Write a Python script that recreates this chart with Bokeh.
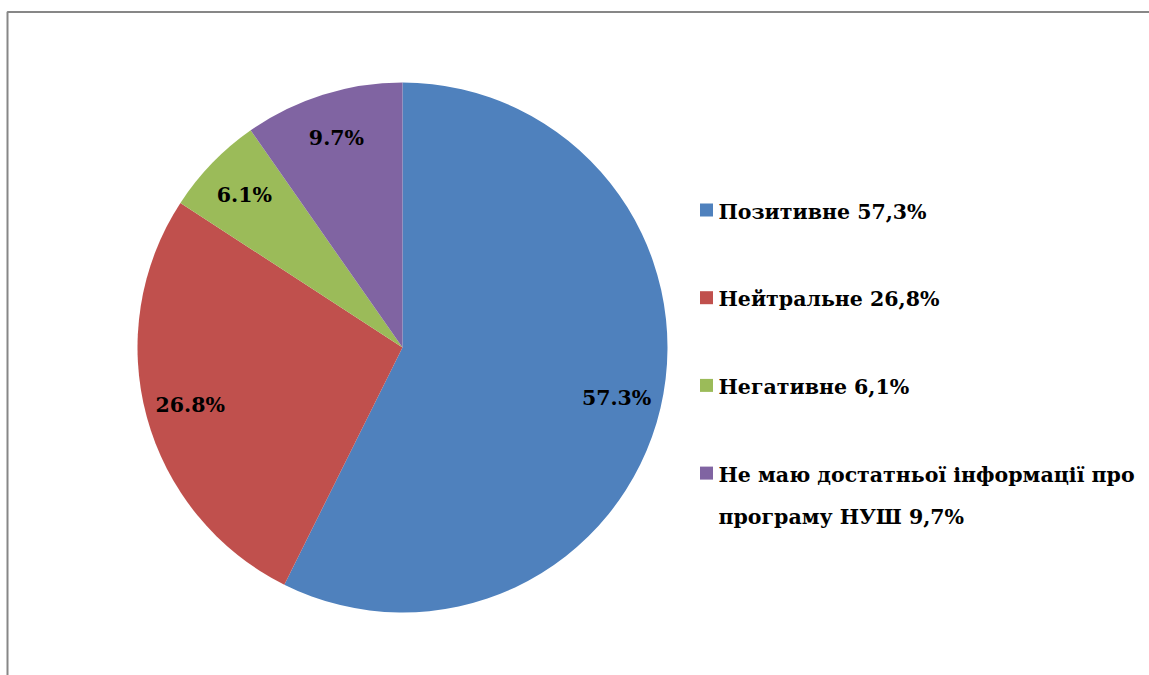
import math
from bokeh.plotting import figure
from bokeh.models import Range1d, ColumnDataSource
from bokeh.core.properties import value
from bokeh.embed import file_html
from bokeh.resources import INLINE

# ---- data ----
categories = ["Позитивне", "Нейтральне", "Негативне", "Не маю достатньої інформації про програму НУШ"]
shares = [57.3, 26.8, 6.1, 9.7]
slice_labels = ["57.3%", "26.8%", "6.1%", "9.7%"]
legend_labels = ["Позитивне 57,3%", "Нейтральне 26,8%", "Негативне 6,1%",
                 "Не маю достатньої інформації про\nпрограму НУШ  9,7%"]
colors = ["#4F81BD", "#C0504D", "#9BBB59", "#8064A2"]

TEXT_STYLE = dict(text_font=value("DejaVu Serif"), text_font_style="bold",
                  text_font_size="20.5px", text_color="black")

W, H = 1149, 675
p = figure(width=W, height=H, x_range=Range1d(0, W), y_range=Range1d(0, H),
           output_backend="svg", toolbar_location=None, min_border=0)
p.axis.visible = False
p.grid.visible = False
p.outline_line_color = None
p.background_fill_color = "white"

# screen coords -> data coords
def sx(x): return x
def sy(y): return H - y

# frame border (top + left)
p.line([sx(7), sx(7), sx(1149)], [sy(675), sy(11.5), sy(11.5)], line_color="#878787", line_width=2)

cx, cy, R = sx(402), sy(347), 265
total = sum(shares)
starts, ends, lx, ly = [], [], [], []
a = math.pi / 2
for s in shares:
    sweep = 2 * math.pi * s / total
    starts.append(a)
    ends.append(a - sweep)
    mid = a - sweep / 2
    lx.append(cx + 0.83 * R * math.cos(mid))
    ly.append(cy + 0.83 * R * math.sin(mid))
    a -= sweep

src = ColumnDataSource(dict(start=starts, end=ends, color=colors, lx=lx, ly=ly,
                            lab=slice_labels, cat=categories, share=shares))
p.wedge(x=cx, y=cy, radius=R, start_angle="start", end_angle="end", direction="clock",
        fill_color="color", line_color=None, source=src)
p.text(x="lx", y="ly", text="lab", source=src, text_align="center", text_baseline="middle",
       **TEXT_STYLE)

# legend
n = len(legend_labels)
sq_x = [sx(706)] * n
sq_y = [sy(209.5 + i * 87.7) for i in range(n)]
tx = [sx(718)] * n
ty = [sy(199 + i * 87.7) for i in range(n)]
lsrc = ColumnDataSource(dict(sx=sq_x, sy=sq_y, tx=tx, ty=ty, color=colors, lab=legend_labels))
p.scatter(x="sx", y="sy", marker="square", size=13, fill_color="color", line_color=None, source=lsrc)
p.text(x="tx", y="ty", text="lab", source=lsrc, text_align="left", text_baseline="top",
       text_line_height=1.75, **TEXT_STYLE)

open("out.html", "w").write(file_html(p, INLINE))
